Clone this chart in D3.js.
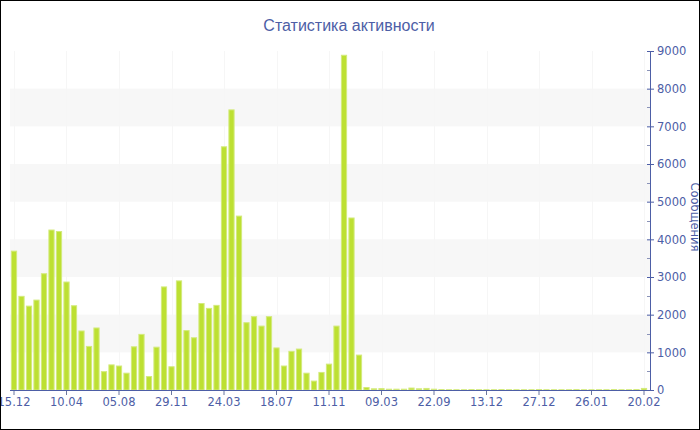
<!DOCTYPE html>
<html><head><meta charset="utf-8">
<script src="https://cdn.jsdelivr.net/npm/d3@7"></script>
<style>html,body{margin:0;padding:0;background:#fff;}svg{display:block;}</style>
</head><body>
<script>
const tickLabels = ["15.12","10.04","05.08","29.11","24.03","18.07","11.11","09.03","22.09","13.12","27.12","26.01","20.02"];
const messages = [3700,2500,2240,2400,3100,4260,4220,2880,2250,1580,1170,1660,500,680,650,460,1160,1490,370,1150,
  2750,630,2910,1590,1400,2310,2180,2260,6470,7450,4630,1800,1960,1710,1960,1130,650,1040,1100,460,
  250,480,700,1710,8900,4580,940,80,45,50,35,35,35,65,45,55,35,
  25,20,20,20,25,20,20,20,25,20,20,20,20,25,20,20,20,20,25,20,20,20,20,25,20,20,25,55];
const categories = messages.map((d, i) => i);
const yTicks = [0,1000,2000,3000,4000,5000,6000,7000,8000,9000];
const labelStep = 7;
const title = "Статистика активности";
const yTitle = "Сообщения";

const W = 700, H = 430;
const blue = "#4d5ea6";
const labelFont = "DejaVu Sans, Verdana, sans-serif";
const svg = d3.select("body").append("svg").attr("width", W).attr("height", H);

const x = d3.scaleBand().domain(categories).range([10.25, 647.75]).paddingInner(0.17).paddingOuter(0.085);
const y = d3.scaleLinear().domain([0, 9000]).range([390, 51]);

// alternate bands
const bands = yTicks.filter((t, i) => i % 2 === 1 && t < 9000);
svg.append("g").selectAll("rect").data(bands).join("rect")
  .attr("x", 10).attr("width", 640)
  .attr("y", d => y(d + 1000)).attr("height", d => y(d) - y(d + 1000))
  .attr("fill", "#f7f7f7");

// faint vertical grid at label ticks
const labelCats = categories.filter(i => i % labelStep === 0);
svg.append("g").selectAll("line").data(labelCats).join("line")
  .attr("x1", d => Math.round(x(d) + x.bandwidth()/2) + 0.5).attr("x2", d => Math.round(x(d) + x.bandwidth()/2) + 0.5)
  .attr("y1", 51).attr("y2", 390).attr("stroke", "#f6f6f6").attr("stroke-width", 1);

// bars
svg.append("g").selectAll("rect").data(messages).join("rect")
  .attr("x", (d, i) => x(i) + 0.5)
  .attr("width", x.bandwidth() - 1)
  .attr("y", d => y(d) + 0.5)
  .attr("height", d => Math.max(0, y(0) - y(d) - 0.5))
  .attr("fill", "#bde032")
  .attr("stroke", "#d3ea7c").attr("stroke-width", 1);

// x axis
const xAxis = d3.axisBottom(x)
  .tickValues(labelCats)
  .tickFormat(d => tickLabels[d / labelStep])
  .tickSize(5).tickSizeOuter(0).tickPadding(3);
const gx = svg.append("g").attr("transform", "translate(0,390)").call(xAxis);
gx.select(".domain").remove();
gx.selectAll(".tick line").attr("stroke", "#6b779f");
gx.selectAll(".tick text").attr("fill", blue).style("font-family", labelFont).style("font-size", "11.5px");
svg.append("line").attr("x1", 10).attr("x2", 651).attr("y1", 390.5).attr("y2", 390.5).attr("stroke", blue).attr("stroke-width", 1);

// y axis (right)
const yAxis = d3.axisRight(y).tickValues(yTicks).tickFormat(d3.format("d")).tickSize(4).tickSizeOuter(0).tickPadding(3);
const gy = svg.append("g").attr("transform", "translate(650,0)").call(yAxis);
gy.select(".domain").remove();
gy.selectAll(".tick line").attr("stroke", blue).attr("x1", -3);
gy.selectAll(".tick text").attr("fill", blue).style("font-family", labelFont).style("font-size", "11.5px");
const minor = d3.range(500, 9000, 1000);
svg.append("g").selectAll("line").data(minor).join("line")
  .attr("x1", 647).attr("x2", 650).attr("y1", d => Math.round(y(d)) + 0.5).attr("y2", d => Math.round(y(d)) + 0.5)
  .attr("stroke", "#8a93b8");
svg.append("line").attr("x1", 650.5).attr("x2", 650.5).attr("y1", 51).attr("y2", 391).attr("stroke", blue);

// titles
svg.append("text").attr("x", 349).attr("y", 31).attr("text-anchor", "middle")
  .attr("fill", blue).style("font-family", "Liberation Sans, Arial, sans-serif").style("font-size", "16px").text(title);
svg.append("text").attr("transform", "translate(691,217) rotate(90)").attr("text-anchor", "middle")
  .attr("fill", blue).style("font-family", labelFont).style("font-size", "11.5px").text(yTitle);

// outer border
svg.append("rect").attr("x", 0.5).attr("y", 0.5).attr("width", W - 1).attr("height", H - 1)
  .attr("fill", "none").attr("stroke", "#000");
</script>
</body></html>
